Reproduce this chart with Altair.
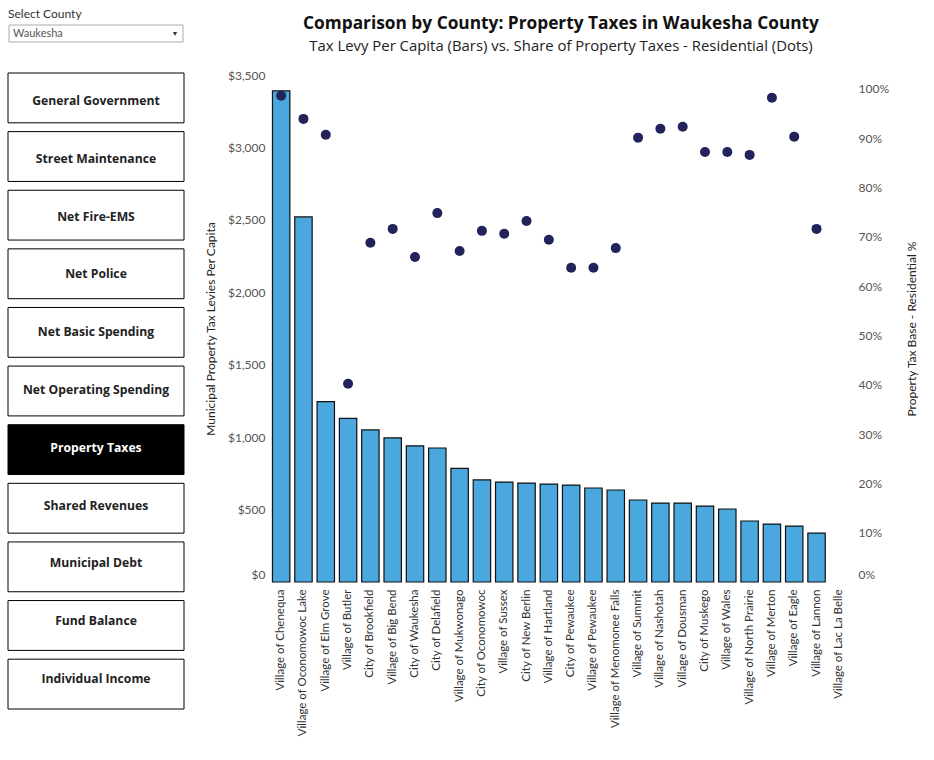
import altair as alt
import pandas as pd

FONT = "Lato"
TITLE_FONT = "Open Sans"

municipalities = [
    "Village of Chenequa", "Village of Oconomowoc Lake", "Village of Elm Grove",
    "Village of Butler", "City of Brookfield", "Village of Big Bend",
    "City of Waukesha", "City of Delafield", "Village of Mukwonago",
    "City of Oconomowoc", "Village of Sussex", "City of New Berlin",
    "Village of Hartland", "City of Pewaukee", "Village of Pewaukee",
    "Village of Menomonee Falls", "Village of Summit", "Village of Nashotah",
    "Village of Dousman", "City of Muskego", "Village of Wales",
    "Village of North Prairie", "Village of Merton", "Village of Eagle",
    "Village of Lannon", "Village of Lac La Belle",
]
levy_per_capita = [3390, 2520, 1245, 1130, 1050, 995, 940, 925, 785, 705, 690,
                   683, 676, 669, 649, 635, 566, 545, 545, 524, 504, 421, 400,
                   386, 338, None]
residential_share = [0.986, 0.939, 0.907, 0.402, 0.688, 0.716, 0.659, 0.748,
                     0.671, 0.712, 0.706, 0.732, 0.694, 0.637, 0.637, 0.677,
                     0.901, 0.919, 0.923, 0.872, 0.872, 0.866, 0.982, 0.903,
                     0.716, None]

buttons = ["General Government", "Street Maintenance", "Net Fire-EMS",
           "Net Police", "Net Basic Spending", "Net Operating Spending",
           "Property Taxes", "Shared Revenues", "Municipal Debt",
           "Fund Balance", "Individual Income"]
selected_button = "Property Taxes"
county = "Waukesha"

title_text = "Comparison by County: Property Taxes in Waukesha County"
subtitle_text = "Tax Levy Per Capita (Bars) vs. Share of Property Taxes - Residential (Dots)"

levy_ticks = [0, 500, 1000, 1500, 2000, 2500, 3000, 3500]
share_ticks = [0.0, 0.1, 0.2, 0.3, 0.4, 0.5, 0.6, 0.7, 0.8, 0.9, 1.0]

df = pd.DataFrame({"muni": municipalities, "levy": levy_per_capita,
                   "resid": residential_share})

x_enc = alt.X(
    "muni:N", sort=municipalities, title=None,
    scale=alt.Scale(paddingInner=0.22, paddingOuter=0.11),
    axis=alt.Axis(labelAngle=270, labelFontSize=11.5, labelColor="#333",
                  labelFont=FONT, labelLimit=163, ticks=False, domain=False,
                  labelPadding=7),
)

bars = alt.Chart(df).mark_bar(color="#4AA8DE", stroke="#111", strokeWidth=1.2).encode(
    x=x_enc,
    y=alt.Y("levy:Q", scale=alt.Scale(domain=[0, 3500], nice=False),
            axis=alt.Axis(title="Municipal Property Tax Levies Per Capita",
                          values=levy_ticks, format="$,.0f",
                          labelFont=FONT, labelFontSize=12, labelColor="#555",
                          titleFont=FONT, titleFontSize=12, titleFontWeight="normal",
                          titleColor="#222", ticks=False, domain=False, grid=False,
                          labelPadding=5, titlePadding=10,
                          labelOffset={"condition": {"test": "datum.value === 0", "value": -8}, "value": 0})),
)

dots = alt.Chart(df).mark_circle(size=100, color="#21235A", opacity=1).encode(
    x=x_enc,
    y=alt.Y("resid:Q", scale=alt.Scale(domain=[0, 1.028], nice=False),
            axis=alt.Axis(orient="right", title="Property Tax Base - Residential %",
                          values=share_ticks, format=".0%", titleAngle=270,
                          labelFont=FONT, labelFontSize=12, labelColor="#555",
                          titleFont=FONT, titleFontSize=12, titleFontWeight="normal",
                          titleColor="#222", ticks=False, domain=False, grid=False,
                          labelPadding=8, titlePadding=30,
                          labelOffset={"condition": {"test": "datum.value === 0", "value": -8}, "value": 0})),
)

btn_df = pd.DataFrame({"button": buttons,
                       "selected": [b == selected_button for b in buttons]})
y_btn = alt.Y("button:N", sort=buttons, axis=None,
              scale=alt.Scale(range=[-2, 634], paddingInner=0.15, paddingOuter=0))

btn_rect = alt.Chart(btn_df).mark_rect(stroke="black", strokeWidth=1).encode(
    x=alt.value(-262), x2=alt.value(-86), y=y_btn,
    fill=alt.condition("datum.selected", alt.value("black"), alt.value("white")),
)
btn_text = alt.Chart(btn_df).mark_text(font=TITLE_FONT, fontWeight="bold", fontSize=12.2,
                                       dy=-1).encode(
    x=alt.value(-174), y=y_btn, text="button:N",
    color=alt.condition("datum.selected", alt.value("white"), alt.value("#222")),
)

sel_df = pd.DataFrame({"t": ["Select County"]})
county_df = pd.DataFrame({"t": [county]})
sel_label = alt.Chart(sel_df).mark_text(align="left", baseline="middle", font=FONT,
                                        fontSize=12, color="#333").encode(
    x=alt.value(-262), y=alt.value(-61), text="t:N")
dropdown_box = alt.Chart(county_df).mark_rect(fill="white", stroke="#aaa", strokeWidth=1).encode(
    x=alt.value(-261), x2=alt.value(-87), y=alt.value(-50), y2=alt.value(-33))
dropdown_text = alt.Chart(county_df).mark_text(align="left", baseline="middle", font=FONT,
                                               fontSize=11, color="#555").encode(
    x=alt.value(-257), y=alt.value(-41.5), text="t:N")
dropdown_arrow = alt.Chart(county_df).mark_text(text="▼", fontSize=7, color="#333").encode(
    x=alt.value(-95), y=alt.value(-41.5))

title_df = pd.DataFrame({"t": [title_text]})
subtitle_df = pd.DataFrame({"t": [subtitle_text]})
title_mark = alt.Chart(title_df).mark_text(font=TITLE_FONT, fontSize=17.3, fontWeight="bold",
                                           color="#111", baseline="middle").encode(
    x=alt.value(291), y=alt.value(-51), text="t:N")
subtitle_mark = alt.Chart(subtitle_df).mark_text(font=TITLE_FONT, fontSize=14.9,
                                                 color="#222", baseline="middle").encode(
    x=alt.value(291), y=alt.value(-28), text="t:N")

chart = alt.layer(
    bars, dots, btn_rect, btn_text, sel_label, dropdown_box, dropdown_text,
    dropdown_arrow, title_mark, subtitle_mark
).resolve_scale(y="independent").properties(
    width=580, height=507,
    autosize=alt.AutoSizeParams(type="none"),
    padding={"left": 270, "top": 75, "right": 84, "bottom": 178},
).configure_view(stroke=None)

chart.save("out.html", embed_options={"renderer": "svg", "actions": False})
